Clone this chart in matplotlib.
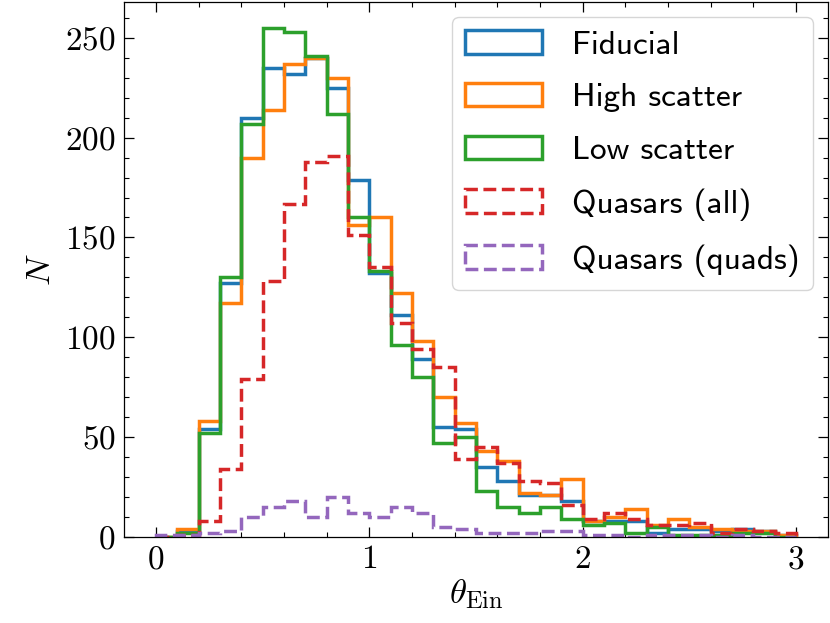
import numpy as np
import matplotlib
matplotlib.use("Agg")
import matplotlib.pyplot as plt

plt.rcParams['font.family'] = 'serif'
plt.rcParams['font.serif'] = ['cmr10']
plt.rcParams['mathtext.fontset'] = 'cm'
plt.rcParams['axes.formatter.use_mathtext'] = True
plt.rcParams['axes.unicode_minus'] = False

edges = np.round(np.linspace(0.0, 3.0, 31), 3)

fiducial = [0, 3, 54, 127, 210, 235, 232, 240, 225, 179, 132, 111, 89, 55, 54,
            35, 28, 21, 21, 18, 8, 8, 8, 2, 4, 4, 3, 4, 3, 1]
high_scatter = [0, 4, 58, 117, 190, 214, 237, 240, 230, 156, 160, 122, 98, 70, 57,
                43, 38, 22, 21, 29, 8, 10, 14, 6, 9, 5, 4, 3, 3, 1]
low_scatter = [0, 2, 52, 130, 207, 255, 253, 241, 212, 160, 133, 96, 80, 47, 50,
               23, 15, 12, 15, 9, 6, 7, 2, 5, 1, 1, 1, 2, 2, 0]
quasars_all = [0, 1, 8, 34, 79, 128, 167, 188, 191, 151, 135, 107, 94, 85, 39,
               45, 37, 28, 27, 16, 9, 12, 9, 6, 6, 7, 2, 4, 3, 2]
quasars_quads = [1, 1, 2, 3, 10, 15, 18, 10, 20, 12, 10, 15, 12, 5, 4,
                 2, 2, 2, 3, 3, 1, 1, 0, 1, 1, 1, 0, 1, 0, 0]

labels = ["Fiducial", "High scatter", "Low scatter", "Quasars (all)", "Quasars (quads)"]
series = [fiducial, high_scatter, low_scatter, quasars_all, quasars_quads]
colors = ["tab:blue", "tab:orange", "tab:green", "tab:red", "tab:purple"]
styles = ["-", "-", "-", "--", "--"]

centers = 0.5 * (edges[:-1] + edges[1:])

fig = plt.figure(figsize=(8.3, 6.23), dpi=100)
ax = fig.add_axes([124/830, 1 - 536.7/623, (828-124)/830, (536.7-2)/623])

for lab, vals, c, ls in zip(labels, series, colors, styles):
    ax.hist(centers, bins=edges, weights=vals, histtype='step', color=c,
            linestyle=ls, linewidth=2.5, label=lab)

ax.set_xlim(-0.15, 3.15)
ax.set_ylim(0, 268)
ax.set_xticks([0, 1, 2, 3])
ax.set_yticks([0, 50, 100, 150, 200, 250])
ax.minorticks_on()
ax.tick_params(which='both', direction='in', top=True, right=True, labelsize=24)
ax.tick_params(which='major', length=7, width=0.9, pad=6)
ax.tick_params(which='minor', length=3.5, width=0.8)
for sp in ax.spines.values():
    sp.set_linewidth(0.9)

ax.set_xlabel(r'$\theta_{\rm Ein}$', fontsize=25, labelpad=2)
ax.set_ylabel(r'$N$', fontsize=25, labelpad=6)

leg = ax.legend(loc='upper right', prop={'family': 'cmss10', 'size': 24},
                borderaxespad=0.45, handlelength=2.3, handletextpad=0.9,
                labelspacing=0.7)

fig.savefig("out.png", dpi=100)
